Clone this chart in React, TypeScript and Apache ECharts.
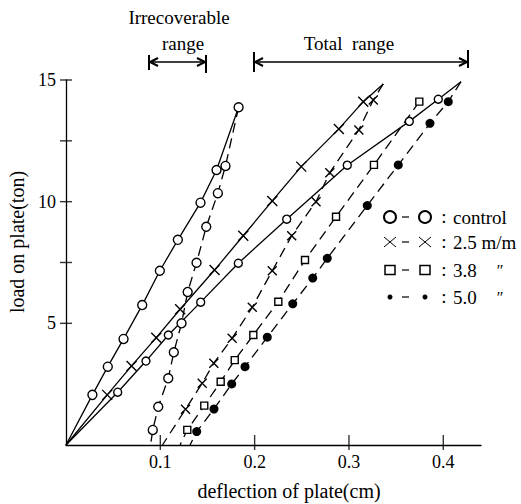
import React, { useEffect, useRef } from "react";
import * as echarts from "echarts";

// ---- data (deflection cm, load ton) ----
const controlLoadX = [0, 0.028, 0.0443, 0.061, 0.0808, 0.0995, 0.1186, 0.1426, 0.1596, 0.183];
const controlLoadY = [0, 2.06, 3.22, 4.36, 5.75, 7.16, 8.43, 9.96, 11.3, 13.88];
const controlUnloadX = [0.183, 0.1691, 0.161, 0.1487, 0.1384, 0.129, 0.1225, 0.1143, 0.1084, 0.0978, 0.092, 0.0896];
const controlUnloadY = [13.88, 11.47, 10.35, 8.97, 7.49, 6.29, 5.0, 3.81, 2.74, 1.57, 0.62, 0];

const m25LoadX = [0, 0.0437, 0.0695, 0.0957, 0.121, 0.1575, 0.1879, 0.2187, 0.2494, 0.2893, 0.3152, 0.3364];
const m25LoadY = [0, 2.06, 3.25, 4.41, 5.58, 7.19, 8.6, 10.03, 11.44, 12.99, 14.11, 14.84];
const m25UnloadX = [0.3364, 0.3258, 0.3105, 0.2797, 0.2651, 0.2393, 0.2187, 0.1975, 0.1762, 0.1567, 0.1444, 0.1267, 0.1023];
const m25UnloadY = [14.84, 14.18, 12.95, 11.19, 10.0, 8.6, 7.16, 5.66, 4.39, 3.36, 2.54, 1.47, 0];

const m38LoadX = [0, 0.0548, 0.0848, 0.1085, 0.1428, 0.1827, 0.234, 0.2982, 0.364, 0.3947, 0.4188];
const m38LoadY = [0, 2.17, 3.45, 4.52, 5.87, 7.47, 9.28, 11.5, 13.3, 14.21, 14.93];
const m38UnloadX = [0.3746, 0.3265, 0.2863, 0.2534, 0.2251, 0.1986, 0.1789, 0.164, 0.1466, 0.1286, 0.1209];
const m38UnloadY = [14.11, 11.51, 9.38, 7.6, 5.89, 4.52, 3.49, 2.6, 1.62, 0.62, 0];

const m50UnloadX = [0.4188, 0.4053, 0.3859, 0.3523, 0.3194, 0.277, 0.2616, 0.2404, 0.2134, 0.1898, 0.1757, 0.1569, 0.1386, 0.1315];
const m50UnloadY = [14.93, 14.11, 13.22, 11.51, 9.84, 7.67, 6.86, 5.8, 4.43, 3.22, 2.51, 1.48, 0.55, 0];

const xTicks = [0.1, 0.2, 0.3, 0.4];
const yTicks = [5, 7.5, 10, 12.5, 15];
const xTickLabels = ["0.1", "0.2", "0.3", "0.4"];
const yTickLabels = ["5", "10", "15"];

const legendLabels = ["control", "2.5 m/m", "3.8", "5.0"];

const FONT = "'Liberation Serif', 'DejaVu Serif', serif";
const CROSS = "path://M0,0L10,10M10,0L0,10";

function pts(xs: number[], ys: number[], noMark: number[]) {
  return xs.map((x, i) =>
    noMark.includes(i) ? { value: [x, ys[i]], symbol: "none" } : { value: [x, ys[i]] }
  );
}

function lineSeries(data: any[], dashed: boolean, symbol: string, size: number, filled: boolean, z = 3) {
  return {
    type: "line",
    data,
    symbol,
    symbolSize: size,
    showSymbol: true,
    clip: false,
    z,
    lineStyle: { color: "#000", width: 1.3, type: dashed ? [10, 6] : "solid" },
    itemStyle: { color: filled ? "#000" : "#fff", borderColor: "#000", borderWidth: filled ? 0 : 1.4 },
    emphasis: { disabled: true },
  };
}

export default function App() {
  const ref = useRef<HTMLDivElement>(null);
  useEffect(() => {
    if (!ref.current) return;
    const chart = echarts.init(ref.current, null, { renderer: "svg" });
    const last = (a: number[]) => a.length - 1;

    const txt = (text: string, x: number, y: number, align = "center", size = 17, extra: any = {}) => ({
      type: "text",
      x,
      y,
      ...extra,
      style: { text, fill: "#000", font: `${size}px ${FONT}`, align, verticalAlign: "middle" },
    });
    const ln = (x1: number, y1: number, x2: number, y2: number, w = 1.3) => ({
      type: "line",
      shape: { x1, y1, x2, y2 },
      style: { stroke: "#000", lineWidth: w },
    });
    const pl = (points: number[][], w = 2) => ({
      type: "polyline",
      shape: { points },
      style: { stroke: "#000", lineWidth: w, fill: null },
    });

    const legendRows = [217, 242, 270, 297];
    const legendGraphics: any[] = [];
    const sx1 = 390, sx2 = 425;
    legendRows.forEach((y, i) => {
      legendGraphics.push(ln(402, y, 409, y, 1.2));
      legendGraphics.push(txt(":", 444, y - 1, "center", 19));
      legendGraphics.push(txt(legendLabels[i], 453, y, "left", 19));
      [sx1, sx2].forEach((cx) => {
        if (i === 0) {
          legendGraphics.push({ type: "circle", shape: { cx, cy: y, r: 6 }, style: { fill: "#fff", stroke: "#000", lineWidth: 2 } });
        } else if (i === 1) {
          legendGraphics.push(ln(cx - 6, y - 5, cx + 6, y + 5, 1));
          legendGraphics.push(ln(cx - 6, y + 5, cx + 6, y - 5, 1));
        } else if (i === 2) {
          legendGraphics.push({ type: "rect", shape: { x: cx - 5, y: y - 4.5, width: 10, height: 9 }, style: { fill: "#fff", stroke: "#000", lineWidth: 1.5 } });
        } else {
          legendGraphics.push({ type: "circle", shape: { cx, cy: y, r: 2.5 }, style: { fill: "#000" } });
        }
      });
      if (i >= 2) legendGraphics.push(txt("\u2033", 500, y, "center", 16));
    });

    const option: any = {
      animation: false,
      backgroundColor: "#fff",
      grid: { left: 66, top: 80, right: 40, bottom: 59, containLabel: false },
      xAxis: {
        type: "value",
        min: 0,
        max: 0.44,
        interval: 0.1,
        axisLine: { show: true, lineStyle: { color: "#000", width: 1.3 } },
        axisTick: { show: false },
        splitLine: { show: false },
        axisLabel: {
          color: "#000",
          fontFamily: FONT,
          fontSize: 18,
          margin: 8,
          formatter: (v: number) => {
            const k = xTicks.findIndex((t) => Math.abs(t - v) < 1e-6);
            return k >= 0 ? xTickLabels[k] : "";
          },
        },
      },
      yAxis: {
        type: "value",
        min: 0,
        max: 15,
        interval: 5,
        axisLine: { show: true, lineStyle: { color: "#000", width: 1.3 } },
        axisTick: { show: false },
        splitLine: { show: false },
        axisLabel: {
          color: "#000",
          fontFamily: FONT,
          fontSize: 18,
          margin: 10,
          formatter: (v: number) => (yTickLabels.includes(String(v)) ? String(v) : ""),
        },
      },
      series: [
        lineSeries(pts(controlLoadX, controlLoadY, [0]), false, "circle", 9, false),
        lineSeries(pts(controlUnloadX, controlUnloadY, [0, last(controlUnloadX)]), true, "circle", 9, false),
        lineSeries(pts(m25LoadX, m25LoadY, [0, last(m25LoadX)]), false, CROSS, 10, false),
        lineSeries(pts(m25UnloadX, m25UnloadY, [0, last(m25UnloadX)]), true, CROSS, 9, false),
        lineSeries(pts(m38LoadX, m38LoadY, [0, last(m38LoadX)]), false, "circle", 8, false),
        lineSeries(pts(m38UnloadX, m38UnloadY, [last(m38UnloadX)]), true, "rect", 7, false),
        lineSeries(pts(m50UnloadX, m50UnloadY, [0, last(m50UnloadX)]), true, "circle", 9, true),
        {
          type: "scatter",
          silent: true,
          clip: false,
          symbol: "rect",
          symbolSize: [1.4, 15],
          symbolOffset: [0, -2.5],
          itemStyle: { color: "#000" },
          data: xTicks.map((t) => [t, 0]),
          z: 5,
        },
        {
          type: "scatter",
          silent: true,
          clip: false,
          symbol: "rect",
          symbolSize: [12, 1.4],
          itemStyle: { color: "#000" },
          data: yTicks.map((t) => [0, t]),
          z: 5,
        },
      ],
      graphic: [
        txt("Irrecoverable", 179, 17, "center", 19),
        txt("range", 183, 43, "center", 19),
        txt("Total  range", 349, 43, "center", 19),
        // irrecoverable arrow
        ln(149, 55, 149, 70, 2),
        ln(206, 55, 206, 73, 2),
        ln(149, 62, 206, 62, 1.5),
        pl([[158, 58], [150, 62], [158, 66]]),
        pl([[197, 58], [205, 62], [197, 66]]),
        // total arrow
        ln(254, 52, 254, 72, 2),
        ln(468, 50, 468, 68, 2),
        ln(254, 62, 468, 62, 1.5),
        pl([[263, 58], [255, 62], [263, 66]]),
        pl([[459, 58], [467, 62], [459, 66]]),
        txt("deflection of plate(cm)", 289, 491, "center", 20),
        txt("load on plate(ton)", 17, 242, "center", 20, { rotation: Math.PI / 2 }),
        ...legendGraphics,
      ],
    };
    chart.setOption(option);
    return () => chart.dispose();
  }, []);
  return <div ref={ref} style={{ position: "fixed", left: 0, top: 0, width: 521, height: 504, background: "#fff" }} />;
}
